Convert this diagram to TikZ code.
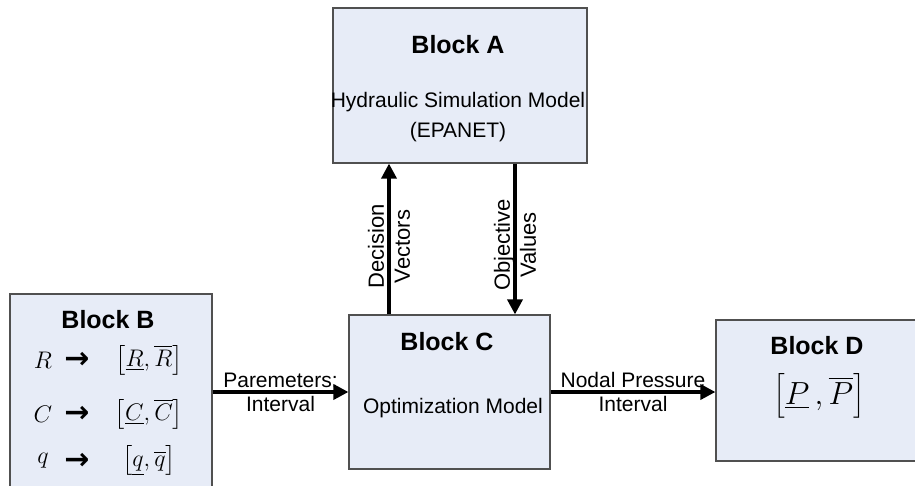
\RequirePackage{fix-cm}
\documentclass[tikz,border=0pt]{standalone}
\usepackage{amsmath}
\usepackage{fontspec}
\setmainfont{Liberation Sans}
\newfontfamily\arrowfont{DejaVu Sans}
\usetikzlibrary{arrows.meta}

\definecolor{blockfill}{RGB}{231,236,247}
\definecolor{blockline}{RGB}{80,80,80}

\tikzset{
  block/.style = {draw=blockline, line width=1.2pt, fill=blockfill, inner sep=0pt},
  title/.style = {font=\fontsize{25}{28}\selectfont\bfseries, inner sep=0pt},
  body/.style = {font=\fontsize{21}{30}\selectfont, align=center},
  tag/.style = {font=\fontsize{21}{25}\selectfont, inner sep=3pt},
  vtag/.style = {font=\fontsize{22}{26}\selectfont, rotate=90, align=center, inner sep=0pt},
  flow/.style = {line width=3.5pt, -{Triangle[length=15pt,width=15pt]}},
  formula/.style = {font=\fontsize{24}{28}\selectfont, inner sep=0pt},
  maparrow/.style = {font=\fontsize{30}{30}\arrowfont\bfseries, inner sep=0pt},
}

\begin{document}
\begin{tikzpicture}[x=1pt, y=-1pt]

	\clip (0,0) rectangle (915,485);

	\node [block, minimum width=254, minimum height=155] (A) at (460,85.5) {};
	\node [title] (titleA) at (458,45) {Block A};
	\node [body] (epanet) at (458,117.5) {Hydraulic Simulation Model\\(EPANET)};

	\node [block, minimum width=202, minimum height=215] (B) at (111,401.5) {};
	\node [title] (titleB) at (108,320) {Block B};
	\foreach \v/\y in {R/360, C/414, q/461}{
		\node [formula] (sym\v) at (43,\y) {$\v$};
		\node [maparrow] (map\v) at (77,\y) {→};
		\node [formula] (int\v) at (149,\y) {$\left[\underline{\v},\overline{\v}\right]$};
	}

	\node [block, minimum width=201, minimum height=154] (C) at (449.5,392) {};
	\node [title] (titleC) at (447,342) {Block C};
	\node [body] (optim) at (453,408) {Optimization Model};

	\node [block, minimum width=214, minimum height=141] (D) at (823,390.5) {};
	\node [title] (titleD) at (817,346) {Block D};
	\node [font=\fontsize{32}{36}\selectfont, inner sep=0pt] (press) at (819,396) {$\left[\underline{P}\,,\overline{P}\right]$};

	\coordinate (dv) at ([xshift=-60.5pt]C.north);
	\coordinate (ov) at ([xshift=55pt]A.south);
	\draw [flow] (dv) -- node [vtag, pos=0.45] {Decision\\Vectors} (dv |- A.south);
	\draw [flow] (ov) -- node [vtag, pos=0.54] {Objective\\Values} (ov |- C.north);

	\draw [flow] (B.east |- C.west) -- node [tag, above] {Paremeters:} node [tag, below] {Interval} (C.west);
	\draw [flow] (C.east) -- node [tag, above] {Nodal Pressure} node [tag, below] {Interval} (D.west |- C.east);

\end{tikzpicture}
\end{document}
